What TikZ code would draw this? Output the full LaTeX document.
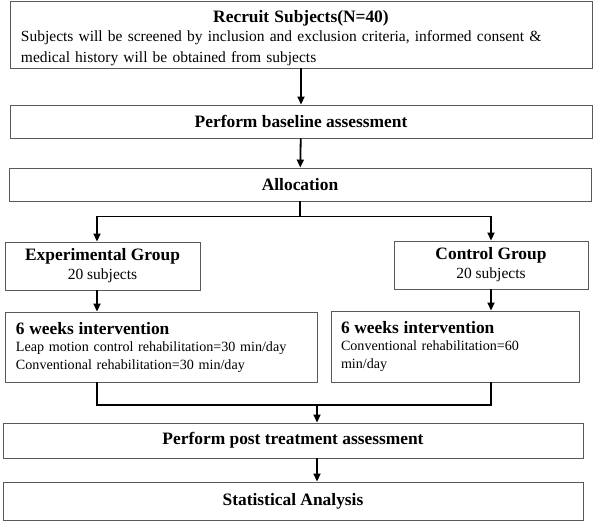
\documentclass[tikz,border=0pt]{standalone}
\usepackage{fontspec}
\setmainfont{Liberation Serif}
\usetikzlibrary{arrows.meta}

\newcommand{\headfont}{\fontsize{17.4bp}{20bp}\selectfont\bfseries}
\newcommand{\bodyfont}{\fontsize{14.1bp}{18bp}\selectfont}

\begin{document}
\begin{tikzpicture}[x=1bp,y=-1bp,
  box/.style={draw=black!65,line width=0.9bp,inner xsep=11bp,inner ysep=0pt,font=\bodyfont},
  link/.style={line width=1.8bp,black},
  flow/.style={link,-{Triangle[length=8bp,width=7bp]}}]
  \useasboundingbox (0,0) rectangle (596,526);

  % columns of the connectors
  \coordinate (colL) at (97,0);
  \coordinate (colR) at (491,0);
  \coordinate (colM) at (317,0);

  % main chain
  \node[box,minimum width=582bp,minimum height=67bp,text width=560bp,align=left,
    font=\fontsize{15.5bp}{21bp}\selectfont] (recruit) at (301,34.5)
    {\rule{0pt}{20bp}\makebox[560bp]{\headfont Recruit Subjects(N=40)}\\[-2bp]
     Subjects will be screened by inclusion and exclusion criteria, informed consent \&\\
     medical history will be obtained from subjects};
  \node[box,minimum width=582bp,minimum height=33bp,font=\headfont] (baseline) at (301,121.5)
    {Perform baseline assessment};
  \node[box,minimum width=582bp,minimum height=33bp,font=\headfont] (alloc) at (300,184.5)
    {Allocation};

  % the two groups
  \node[box,minimum width=195bp,minimum height=48bp,align=center] (exp) at (102.5,266)
    {{\headfont Experimental Group}\\[1bp]{\fontsize{15.5bp}{18bp}\selectfont 20 subjects}};
  \node[box,minimum width=194bp,minimum height=48bp,align=center] (ctrl) at (491,265)
    {{\headfont Control Group}\\[1bp]{\fontsize{15.5bp}{18bp}\selectfont 20 subjects}};

  \node[box,minimum height=70bp,text width=290bp,align=left] (intL) at (161,347)
    {{\headfont 6 weeks intervention}\\[-1bp]
     Leap motion control rehabilitation=30 min/day\\
     Conventional rehabilitation=30 min/day};
  \node[box,minimum height=71bp,inner xsep=10bp,text width=228bp,align=left] (intR) at (455,346.5)
    {{\headfont 6 weeks intervention}\\[-1bp]
     Conventional rehabilitation=60\\
     min/day};

  % closing steps
  \node[box,minimum width=580bp,minimum height=35bp,font=\headfont] (post) at (293,440.5)
    {Perform post treatment assessment};
  \node[box,minimum width=580bp,minimum height=38bp,font=\headfont] (stat) at (293,501)
    {Statistical Analysis};

  % connectors
  \draw[flow] (recruit) -- (baseline);
  \draw[flow] (baseline) -- (alloc);
  \draw[link] (alloc.south) -- ++(0,15) coordinate (split);
  \draw[flow] (split) -| (exp.north -| colL);
  \draw[flow] (split) -| (ctrl.north -| colR);
  \draw[flow] (exp.south -| colL) -- (intL.north -| colL);
  \draw[flow] (ctrl.south -| colR) -- (intR.north -| colR);
  \coordinate (join) at (317,405);
  \draw[link] (intL.south -| colL) |- (join) -| (intR.south -| colR);
  \draw[flow] (join) -- (post.north -| colM);
  \draw[flow] (post.south -| colM) -- (stat.north -| colM);
\end{tikzpicture}
\end{document}
